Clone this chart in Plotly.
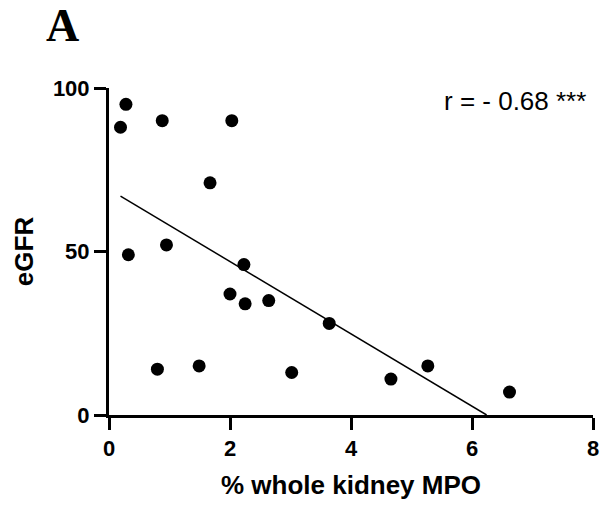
import numpy as np
import plotly.graph_objects as go

# % whole kidney MPO vs eGFR, one point per subject
mpo_pct = [0.28, 0.19, 0.88, 2.03, 1.67, 0.95, 0.32, 2.23, 2.00, 2.25,
           2.64, 3.64, 0.80, 1.49, 3.02, 4.66, 5.27, 6.62]
egfr = [95, 88, 90, 90, 71, 52, 49, 46, 37, 34,
        35, 28, 14, 15, 13, 11, 15, 7]

x_ticks = [0, 2, 4, 6, 8]
y_ticks = [0, 50, 100]
r_label = "r = - 0.68 ***"
panel_label = "A"

# least-squares line, drawn from the smallest x until it reaches eGFR = 0
slope, intercept = np.polyfit(mpo_pct, egfr, 1)
x_start = min(mpo_pct)
x_end = -intercept / slope
fit_x = [x_start, x_end]
fit_y = [slope * v + intercept for v in fit_x]

fig = go.Figure()
fig.add_trace(go.Scatter(
    x=fit_x, y=fit_y, mode="lines",
    line=dict(color="black", width=1.5),
    hoverinfo="skip", showlegend=False, cliponaxis=False,
))
fig.add_trace(go.Scatter(
    x=mpo_pct, y=egfr, mode="markers",
    marker=dict(color="black", size=13),
    showlegend=False, cliponaxis=False,
))

axis_font = dict(family="Liberation Sans, Arial, sans-serif", size=22, color="black")
title_font = dict(family="Liberation Sans, Arial, sans-serif", size=26, color="black")

fig.update_xaxes(
    range=[0, 8], tickvals=x_ticks, ticktext=[f"<b>{v}</b>" for v in x_ticks],
    showline=True, linecolor="black", linewidth=3,
    ticks="outside", ticklen=12, tickwidth=3, tickcolor="black",
    showgrid=False, zeroline=False, tickfont=axis_font,
    title=dict(text="<b>% whole kidney MPO</b>", font=title_font, standoff=16),
)
fig.update_yaxes(
    range=[0, 100], tickvals=y_ticks, ticktext=[f"<b>{v}</b>" for v in y_ticks],
    showline=True, linecolor="black", linewidth=3,
    ticks="outside", ticklen=12, tickwidth=3, tickcolor="black",
    showgrid=False, zeroline=False, tickfont=axis_font,
    title=dict(text="<b>eGFR</b>", font=title_font, standoff=12),
)

fig.add_annotation(
    x=7.92, y=96, xref="x", yref="y", text=r_label, showarrow=False,
    xanchor="right", yanchor="middle",
    font=dict(family="Liberation Sans, Arial, sans-serif", size=26, color="black"),
)
fig.add_annotation(
    x=-0.096, y=1.19, xref="paper", yref="paper", text=f"<b>{panel_label}</b>",
    showarrow=False, xanchor="center", yanchor="middle",
    font=dict(family="Liberation Serif, Times New Roman, serif", size=46, color="black"),
)

fig.update_layout(
    width=609, height=506,
    margin=dict(l=109, r=10, t=88, b=90),
    paper_bgcolor="white", plot_bgcolor="white",
)

fig.write_html("out.html")
